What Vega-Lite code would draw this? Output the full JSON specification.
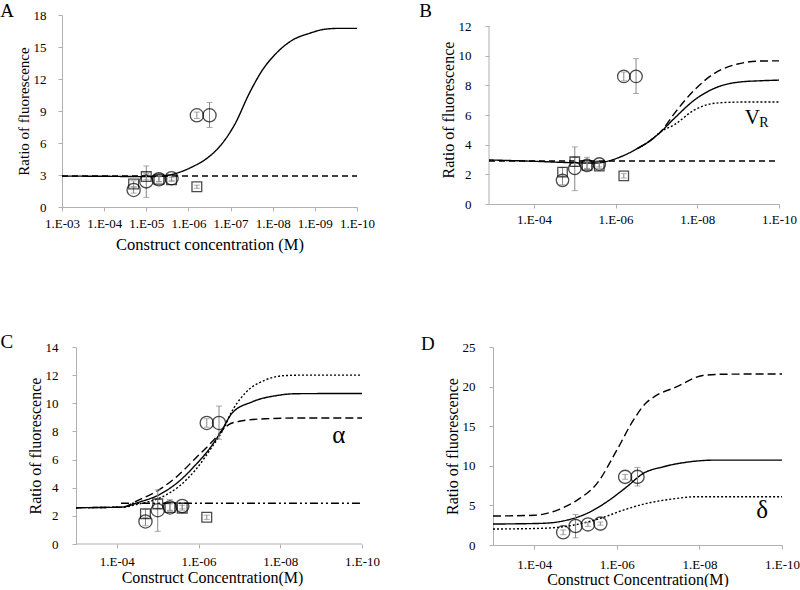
{
  "$schema": "https://vega.github.io/schema/vega-lite/v6.json",
  "padding": {"left": 0, "top": 2, "right": 0, "bottom": 0},
  "config": {
    "font": "Liberation Serif",
    "view": {"stroke": null},
    "text": {"font": "Liberation Serif"},
    "axis": {"grid": false, "domainColor": "#b0b0b0", "tickColor": "#b0b0b0", "labelColor": "#000", "titleColor": "#000", "titleFontWeight": "normal", "labelFontSize": 13, "tickSize": 4, "labelFlush": false, "labelOverlap": false, "labelFont": "Liberation Serif", "titleFont": "Liberation Serif"}
  },
  "datasets": {
    "curves": [
      {"p":"A","s":"solid","x":3,"y":2.9},{"p":"A","s":"solid","x":4,"y":2.88},{"p":"A","s":"solid","x":5,"y":2.85},{"p":"A","s":"solid","x":5.4,"y":2.9},{"p":"A","s":"solid","x":5.7,"y":3.15},{"p":"A","s":"solid","x":6.1,"y":3.78},{"p":"A","s":"solid","x":6.5,"y":4.75},{"p":"A","s":"solid","x":6.8,"y":5.95},{"p":"A","s":"solid","x":7.1,"y":7.75},{"p":"A","s":"solid","x":7.45,"y":10.7},{"p":"A","s":"solid","x":7.75,"y":12.8},{"p":"A","s":"solid","x":8.08,"y":14.4},{"p":"A","s":"solid","x":8.47,"y":15.65},{"p":"A","s":"solid","x":8.87,"y":16.28},{"p":"A","s":"solid","x":9.26,"y":16.68},{"p":"A","s":"solid","x":9.6,"y":16.75},{"p":"A","s":"solid","x":10,"y":16.75},
      {"p":"A","s":"flat","x":3,"y":2.9},{"p":"A","s":"flat","x":10,"y":2.9},
      {"p":"B","s":"solid","x":2.9,"y":2.97},{"p":"B","s":"solid","x":4,"y":2.88},{"p":"B","s":"solid","x":5,"y":2.78},{"p":"B","s":"solid","x":5.5,"y":2.76},{"p":"B","s":"solid","x":5.75,"y":2.85},{"p":"B","s":"solid","x":6.13,"y":3.19},{"p":"B","s":"solid","x":6.54,"y":3.75},{"p":"B","s":"solid","x":6.87,"y":4.32},{"p":"B","s":"solid","x":7.11,"y":4.88},{"p":"B","s":"solid","x":7.44,"y":5.78},{"p":"B","s":"solid","x":7.93,"y":7.01},{"p":"B","s":"solid","x":8.42,"y":7.8},{"p":"B","s":"solid","x":8.99,"y":8.21},{"p":"B","s":"solid","x":9.56,"y":8.31},{"p":"B","s":"solid","x":10,"y":8.35},
      {"p":"B","s":"dash","x":6.54,"y":3.75},{"p":"B","s":"dash","x":6.87,"y":4.32},{"p":"B","s":"dash","x":7.11,"y":4.88},{"p":"B","s":"dash","x":7.44,"y":6.11},{"p":"B","s":"dash","x":7.93,"y":7.69},{"p":"B","s":"dash","x":8.42,"y":8.81},{"p":"B","s":"dash","x":8.99,"y":9.44},{"p":"B","s":"dash","x":9.56,"y":9.64},{"p":"B","s":"dash","x":10,"y":9.65},
      {"p":"B","s":"dot","x":6.54,"y":3.75},{"p":"B","s":"dot","x":6.87,"y":4.32},{"p":"B","s":"dot","x":7.11,"y":4.88},{"p":"B","s":"dot","x":7.44,"y":5.35},{"p":"B","s":"dot","x":7.93,"y":6.34},{"p":"B","s":"dot","x":8.42,"y":6.79},{"p":"B","s":"dot","x":8.99,"y":6.87},{"p":"B","s":"dot","x":9.5,"y":6.88},{"p":"B","s":"dot","x":10,"y":6.88},
      {"p":"B","s":"flat","x":2.9,"y":2.9},{"p":"B","s":"flat","x":10,"y":2.9},
      {"p":"C","s":"dash","x":3,"y":2.58},{"p":"C","s":"dash","x":4.12,"y":2.62},{"p":"C","s":"dash","x":4.53,"y":3.12},{"p":"C","s":"dash","x":5.02,"y":3.83},{"p":"C","s":"dash","x":5.51,"y":4.9},{"p":"C","s":"dash","x":5.92,"y":6.08},{"p":"C","s":"dash","x":6.33,"y":7.26},{"p":"C","s":"dash","x":6.57,"y":8.05},{"p":"C","s":"dash","x":6.75,"y":8.5},{"p":"C","s":"dash","x":7.0,"y":8.72},{"p":"C","s":"dash","x":7.63,"y":8.9},{"p":"C","s":"dash","x":8.37,"y":8.95},{"p":"C","s":"dash","x":10,"y":8.95},
      {"p":"C","s":"solid","x":3,"y":2.58},{"p":"C","s":"solid","x":4.12,"y":2.62},{"p":"C","s":"solid","x":4.53,"y":2.96},{"p":"C","s":"solid","x":5.02,"y":3.48},{"p":"C","s":"solid","x":5.51,"y":4.43},{"p":"C","s":"solid","x":5.92,"y":5.6},{"p":"C","s":"solid","x":6.33,"y":7.02},{"p":"C","s":"solid","x":6.57,"y":8.09},{"p":"C","s":"solid","x":6.82,"y":9.3},{"p":"C","s":"solid","x":7.31,"y":10.1},{"p":"C","s":"solid","x":7.96,"y":10.57},{"p":"C","s":"solid","x":8.37,"y":10.68},{"p":"C","s":"solid","x":10,"y":10.7},
      {"p":"C","s":"dot","x":3,"y":2.58},{"p":"C","s":"dot","x":4.12,"y":2.62},{"p":"C","s":"dot","x":4.53,"y":2.84},{"p":"C","s":"dot","x":5.02,"y":3.24},{"p":"C","s":"dot","x":5.51,"y":4.07},{"p":"C","s":"dot","x":5.92,"y":5.25},{"p":"C","s":"dot","x":6.33,"y":6.9},{"p":"C","s":"dot","x":6.57,"y":7.96},{"p":"C","s":"dot","x":6.82,"y":9.45},{"p":"C","s":"dot","x":7.15,"y":10.75},{"p":"C","s":"dot","x":7.63,"y":11.65},{"p":"C","s":"dot","x":8.12,"y":11.97},{"p":"C","s":"dot","x":8.5,"y":12.0},{"p":"C","s":"dot","x":10,"y":12.0},
      {"p":"C","s":"dashdot","x":4.1,"y":2.9},{"p":"C","s":"dashdot","x":10,"y":2.9},
      {"p":"D","s":"dash","x":3,"y":3.66},{"p":"D","s":"dash","x":4,"y":3.75},{"p":"D","s":"dash","x":4.56,"y":4.41},{"p":"D","s":"dash","x":5.04,"y":5.67},{"p":"D","s":"dash","x":5.52,"y":7.78},{"p":"D","s":"dash","x":6,"y":11.98},{"p":"D","s":"dash","x":6.4,"y":15.76},{"p":"D","s":"dash","x":6.7,"y":17.9},{"p":"D","s":"dash","x":6.9,"y":18.7},{"p":"D","s":"dash","x":7.44,"y":19.96},{"p":"D","s":"dash","x":8.08,"y":21.4},{"p":"D","s":"dash","x":8.56,"y":21.56},{"p":"D","s":"dash","x":10,"y":21.6},
      {"p":"D","s":"solid","x":3,"y":2.65},{"p":"D","s":"solid","x":4.16,"y":2.73},{"p":"D","s":"solid","x":4.8,"y":3.15},{"p":"D","s":"solid","x":5.28,"y":4.0},{"p":"D","s":"solid","x":5.76,"y":5.46},{"p":"D","s":"solid","x":6.24,"y":7.35},{"p":"D","s":"solid","x":6.64,"y":9.04},{"p":"D","s":"solid","x":7.12,"y":9.87},{"p":"D","s":"solid","x":7.76,"y":10.5},{"p":"D","s":"solid","x":8.4,"y":10.72},{"p":"D","s":"solid","x":10,"y":10.72},
      {"p":"D","s":"dot","x":3,"y":2.02},{"p":"D","s":"dot","x":4.16,"y":2.1},{"p":"D","s":"dot","x":4.96,"y":2.52},{"p":"D","s":"dot","x":5.6,"y":3.36},{"p":"D","s":"dot","x":6.16,"y":4.41},{"p":"D","s":"dot","x":6.72,"y":5.25},{"p":"D","s":"dot","x":7.28,"y":5.76},{"p":"D","s":"dot","x":7.92,"y":6.09},{"p":"D","s":"dot","x":10,"y":6.1}
    ],
    "pts": [
      {"g":"circle","x":4.7,"y":1.6},{"g":"circle","x":5.0,"y":2.4},{"g":"circle","x":5.3,"y":2.6},{"g":"circle","x":5.6,"y":2.7},{"g":"circle","x":6.2,"y":8.6},{"g":"circle","x":6.5,"y":8.6},
      {"g":"square","x":4.7,"y":2.15},{"g":"square","x":5.0,"y":2.85},{"g":"square","x":5.3,"y":2.6},{"g":"square","x":5.6,"y":2.55},{"g":"square","x":6.2,"y":1.9}
    ],
    "errs": [
      {"g":"circle","x":4.7,"y":1.3,"y2":1.9},{"g":"circle","x":5.0,"y":0.9,"y2":3.85},{"g":"circle","x":5.3,"y":2.35,"y2":2.85},{"g":"circle","x":5.6,"y":2.5,"y2":2.9},{"g":"circle","x":6.2,"y":8.3,"y2":8.9},{"g":"circle","x":6.5,"y":7.45,"y2":9.8},
      {"g":"square","x":4.7,"y":1.85,"y2":2.45},{"g":"square","x":5.0,"y":2.55,"y2":3.15},{"g":"square","x":5.3,"y":2.4,"y2":3.15},{"g":"square","x":5.6,"y":2.4,"y2":2.75},{"g":"square","x":6.2,"y":1.75,"y2":2.05}
    ],
    "labels": [
      {"p":"A","t":"A","x":1.7,"y":18.375,"fs":19},
      {"p":"B","t":"B","x":1.35,"y":13.01,"fs":19},{"p":"B","t":"V","x":9.35,"y":5.78,"fs":21},{"p":"B","t":"R","x":9.63,"y":5.45,"fs":14},
      {"p":"C","t":"C","x":1.31,"y":14.35,"fs":19},{"p":"C","t":"α","x":9.43,"y":7.73,"fs":25},
      {"p":"D","t":"D","x":1.42,"y":25.38,"fs":19},{"p":"D","t":"δ","x":9.52,"y":4.41,"fs":25}
    ],
    "axislines": [
      {"p":"B","x":2.9,"y":0,"y2":12},
      {"p":"C","x":3,"x2":10,"y":0}
    ]
  },
  "spacing": 80,
  "vconcat": [
    {
      "spacing": 44,
      "hconcat": [
        {
          "width": 295, "height": 192,
          "encoding": {
            "x": {"field": "x", "type": "quantitative", "scale": {"domain": [3, 10], "nice": false, "zero": false}, "axis": {"values": [3,4,5,6,7,8,9,10], "labelExpr": "'1.E-' + (datum.value < 10 ? '0' : '') + datum.value", "title": "Construct concentration (M)", "titleFontSize": 16.5, "labelPadding": 6, "titlePadding": 6}},
            "y": {"field": "y", "type": "quantitative", "scale": {"domain": [0, 18], "nice": false}, "axis": {"values": [0,3,6,9,12,15,18], "title": "Ratio of fluorescence", "titleFontSize": 15, "labelPadding": 12, "titlePadding": 2}}
          },
          "layer": [
            {"data": {"name": "curves"}, "transform": [{"filter": "datum.p === 'A'"}], "mark": {"type": "line", "color": "#000", "strokeWidth": 1.4, "interpolate": "monotone"}, "encoding": {"strokeDash": {"field": "s", "type": "nominal", "scale": {"domain": ["solid","dash","dot","flat","dashdot"], "range": [[1,0],[8,4],[2,2],[6,4],[8,3,2,3,2,3]]}, "legend": null}}},
            {"data": {"name": "errs"}, "mark": {"type": "errorbar", "ticks": {"size": 6, "color": "#888"}, "rule": {"color": "#888", "strokeWidth": 1}}, "encoding": {"y2": {"field": "y2"}}},
            {"data": {"name": "pts"}, "transform": [{"filter": "datum.g === 'square'"}], "mark": {"type": "point", "shape": "square", "filled": false, "color": "#000", "strokeWidth": 1.3, "size": 95}},
            {"data": {"name": "pts"}, "transform": [{"filter": "datum.g === 'circle'"}], "mark": {"type": "point", "shape": "circle", "filled": false, "color": "#000", "strokeWidth": 1.3, "size": 175}},
            {"data": {"name": "labels"}, "transform": [{"filter": "datum.p === 'A'"}], "mark": {"type": "text", "align": "center", "baseline": "middle", "color": "#000"}, "encoding": {"text": {"field": "t"}, "size": {"field": "fs", "type": "quantitative", "scale": null}}}
          ]
        },
        {
          "width": 290, "height": 189,
          "encoding": {
            "x": {"field": "x", "type": "quantitative", "scale": {"domain": [2.9, 10], "nice": false, "zero": false}, "axis": {"values": [4,6,8,10], "labelExpr": "'1.E-' + (datum.value < 10 ? '0' : '') + datum.value", "title": null, "labelPadding": 5}},
            "y": {"field": "y", "type": "quantitative", "scale": {"domain": [0, 12.742], "nice": false}, "axis": {"values": [0,2,4,6,8,10,12], "domain": false, "title": "Ratio of fluorescence", "titleFontSize": 16, "labelPadding": 14, "titlePadding": 2}}
          },
          "layer": [
            {"data": {"name": "axislines"}, "transform": [{"filter": "datum.p === 'B'"}], "mark": {"type": "rule", "color": "#b0b0b0", "strokeWidth": 1}, "encoding": {"y2": {"field": "y2"}}},
            {"data": {"name": "curves"}, "transform": [{"filter": "datum.p === 'B'"}], "mark": {"type": "line", "color": "#000", "strokeWidth": 1.4, "interpolate": "monotone"}, "encoding": {"strokeDash": {"field": "s", "type": "nominal", "scale": {"domain": ["solid","dash","dot","flat","dashdot"], "range": [[1,0],[8,4],[2,2],[6,4],[8,3,2,3,2,3]]}, "legend": null}}},
            {"data": {"name": "errs"}, "mark": {"type": "errorbar", "ticks": {"size": 6, "color": "#888"}, "rule": {"color": "#888", "strokeWidth": 1}}, "encoding": {"y2": {"field": "y2"}}},
            {"data": {"name": "pts"}, "transform": [{"filter": "datum.g === 'square'"}], "mark": {"type": "point", "shape": "square", "filled": false, "color": "#000", "strokeWidth": 1.3, "size": 90}},
            {"data": {"name": "pts"}, "transform": [{"filter": "datum.g === 'circle'"}], "mark": {"type": "point", "shape": "circle", "filled": false, "color": "#000", "strokeWidth": 1.3, "size": 155}},
            {"data": {"name": "labels"}, "transform": [{"filter": "datum.p === 'B'"}], "mark": {"type": "text", "align": "center", "baseline": "middle", "color": "#000"}, "encoding": {"text": {"field": "t"}, "size": {"field": "fs", "type": "quantitative", "scale": null}}}
          ]
        }
      ]
    },
    {
      "spacing": 40,
      "hconcat": [
        {
          "width": 300, "height": 197,
          "encoding": {
            "x": {"field": "x", "type": "quantitative", "scale": {"domain": [2.657, 10], "nice": false, "zero": false}, "axis": {"values": [4,6,8,10], "domain": false, "labelExpr": "'1.E-' + (datum.value < 10 ? '0' : '') + datum.value", "title": "Construct Concentration(M)", "titleFontSize": 16, "labelPadding": 7, "titlePadding": 1}},
            "y": {"field": "y", "type": "quantitative", "scale": {"domain": [0, 14], "nice": false}, "axis": {"values": [0,2,4,6,8,10,12,14], "offset": -14, "title": "Ratio of fluorescence", "titleFontSize": 16, "labelPadding": 14, "titlePadding": 2}}
          },
          "layer": [
            {"data": {"name": "axislines"}, "transform": [{"filter": "datum.p === 'C'"}], "mark": {"type": "rule", "color": "#b0b0b0", "strokeWidth": 1}, "encoding": {"x2": {"field": "x2"}}},
            {"data": {"name": "curves"}, "transform": [{"filter": "datum.p === 'C'"}], "mark": {"type": "line", "color": "#000", "strokeWidth": 1.4, "interpolate": "monotone"}, "encoding": {"strokeDash": {"field": "s", "type": "nominal", "scale": {"domain": ["solid","dash","dot","flat","dashdot"], "range": [[1,0],[8,4],[2,2],[6,4],[8,3,2,3,2,3]]}, "legend": null}}},
            {"data": {"name": "errs"}, "mark": {"type": "errorbar", "ticks": {"size": 6, "color": "#888"}, "rule": {"color": "#888", "strokeWidth": 1}}, "encoding": {"y2": {"field": "y2"}}},
            {"data": {"name": "pts"}, "transform": [{"filter": "datum.g === 'square'"}], "mark": {"type": "point", "shape": "square", "filled": false, "color": "#000", "strokeWidth": 1.3, "size": 95}},
            {"data": {"name": "pts"}, "transform": [{"filter": "datum.g === 'circle'"}], "mark": {"type": "point", "shape": "circle", "filled": false, "color": "#000", "strokeWidth": 1.3, "size": 175}},
            {"data": {"name": "labels"}, "transform": [{"filter": "datum.p === 'C'"}], "mark": {"type": "text", "align": "center", "baseline": "middle", "color": "#000"}, "encoding": {"text": {"field": "t"}, "size": {"field": "fs", "type": "quantitative", "scale": null}}}
          ]
        },
        {
          "width": 289, "height": 198,
          "encoding": {
            "x": {"field": "x", "type": "quantitative", "scale": {"domain": [3, 10], "nice": false, "zero": false}, "axis": {"values": [4,6,8,10], "labelExpr": "'1.E-' + (datum.value < 10 ? '0' : '') + datum.value", "title": "Construct Concentration(M)", "titleFontSize": 16, "labelPadding": 9, "titlePadding": 0}},
            "y": {"field": "y", "type": "quantitative", "scale": {"domain": [0, 25], "nice": false}, "axis": {"values": [0,5,10,15,20,25], "title": "Ratio of fluorescence", "titleFontSize": 16, "labelPadding": 14, "titlePadding": 2}}
          },
          "layer": [
            {"data": {"name": "curves"}, "transform": [{"filter": "datum.p === 'D'"}], "mark": {"type": "line", "color": "#000", "strokeWidth": 1.4, "interpolate": "monotone"}, "encoding": {"strokeDash": {"field": "s", "type": "nominal", "scale": {"domain": ["solid","dash","dot","flat","dashdot"], "range": [[1,0],[8,4],[2,2],[6,4],[8,3,2,3,2,3]]}, "legend": null}}},
            {"data": {"name": "errs"}, "transform": [{"filter": "datum.g === 'circle'"}], "mark": {"type": "errorbar", "ticks": {"size": 6, "color": "#888"}, "rule": {"color": "#888", "strokeWidth": 1}}, "encoding": {"y2": {"field": "y2"}}},
            {"data": {"name": "pts"}, "transform": [{"filter": "datum.g === 'circle'"}], "mark": {"type": "point", "shape": "circle", "filled": false, "color": "#000", "strokeWidth": 1.3, "size": 175}},
            {"data": {"name": "labels"}, "transform": [{"filter": "datum.p === 'D'"}], "mark": {"type": "text", "align": "center", "baseline": "middle", "color": "#000"}, "encoding": {"text": {"field": "t"}, "size": {"field": "fs", "type": "quantitative", "scale": null}}}
          ]
        }
      ]
    }
  ]
}
